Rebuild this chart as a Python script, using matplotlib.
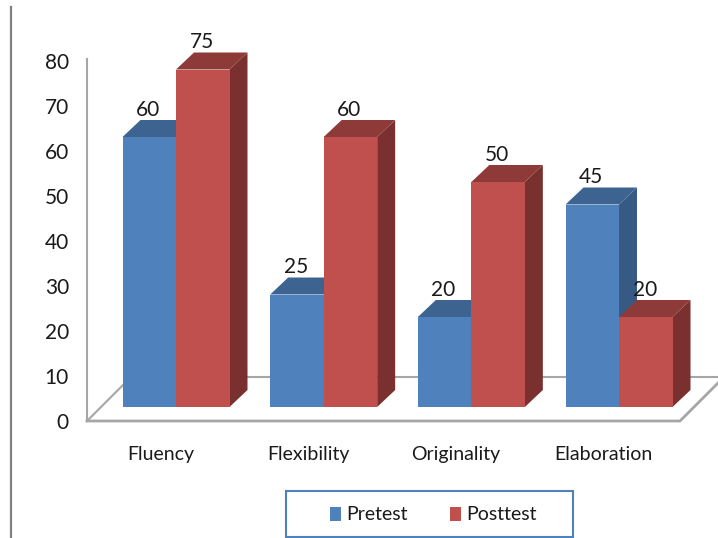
import matplotlib
matplotlib.use("Agg")
import matplotlib.pyplot as plt
from matplotlib.lines import Line2D
from matplotlib.patches import Patch, Polygon, Rectangle

categories = ["Fluency", "Flexibility", "Originality", "Elaboration"]
pretest = [60, 25, 20, 45]
posttest = [75, 60, 50, 20]
y_ticks = [0, 10, 20, 30, 40, 50, 60, 70, 80]

BLUE = ("#4F81BD", "#3D6491", "#375A85")
RED = ("#C0504D", "#8E3A38", "#7A302E")
GREY = "#A6A6A6"
TEXT = "#1A1A1A"

W, H = 718, 538
plt.rcParams["font.family"] = ["Lato", "DejaVu Sans"]
FONT = 15
SMALL_FONT = 14

fig = plt.figure(figsize=(W / 100, H / 100), dpi=100, facecolor="white")
# Axes span the front edge of the chart floor
L, R, T, B = 87, 680, 61, 421
ax = fig.add_axes([L / W, 1 - B / H, (R - L) / W, (B - T) / H])

unit_x = 147.67
group_left = 176
ax.set_xlim(-(group_left - L) / unit_x, (R - group_left) / unit_x)
ax.set_ylim(0, 80)
unit_y = (B - T) / 80

bar_w = 53.5 / unit_x
base = 14 / unit_y          # bars stand slightly behind the front edge
bar_dx, bar_dy = 18 / unit_x, 17 / unit_y
floor_dx, floor_dy = 44 / unit_x, 44 / unit_y
x0, x1 = ax.get_xlim()

# Floor outline, running out past the right side of the figure
ax.add_line(Line2D([x0, x0 + floor_dx, x1 + floor_dx], [0, floor_dy, floor_dy],
                   color=GREY, lw=1.5, clip_on=False, zorder=1))
ax.add_line(Line2D([x0, x1, x1 + floor_dx], [0, 0, floor_dy],
                   color=GREY, lw=2, clip_on=False, zorder=1))


def draw_bar(left, value, shades):
    front, top, side = shades
    right = left + bar_w
    y1 = base + value
    ax.add_patch(Polygon([(right, base), (right + bar_dx, base + bar_dy),
                          (right + bar_dx, y1 + bar_dy), (right, y1)],
                         fc=side, ec="none", clip_on=False, zorder=2))
    ax.add_patch(Polygon([(left, y1), (right, y1), (right + bar_dx, y1 + bar_dy),
                          (left + bar_dx, y1 + bar_dy)],
                         fc=top, ec="none", clip_on=False, zorder=2))
    ax.bar(left, value, bar_w, bottom=base, align="edge", color=front,
           clip_on=False, zorder=2)
    ax.annotate(str(value), (left + bar_w / 2, y1), xytext=(-0.7, 19.5),
                textcoords="offset points", ha="center", va="center",
                fontsize=FONT, color=TEXT, zorder=5, annotation_clip=False)


for i, (a, b) in enumerate(zip(pretest, posttest)):
    draw_bar(i - bar_w, a, BLUE)
    draw_bar(i, b, RED)

ax.patch.set_visible(False)
for name in ("top", "right", "bottom"):
    ax.spines[name].set_visible(False)
ax.spines["left"].set_color(GREY)
ax.spines["left"].set_linewidth(1.5)
ax.spines["left"].set_bounds(0, 80.4)

ax.set_yticks(y_ticks)
ax.tick_params(axis="y", length=0, pad=13, labelsize=FONT, labelcolor=TEXT)
ax.set_xticks([i - 0.105 for i in range(len(categories))])
ax.set_xticklabels(categories)
ax.tick_params(axis="x", length=0, pad=18, labelsize=SMALL_FONT, labelcolor=TEXT)

# Vertical rule along the left side of the figure
fig.add_artist(Line2D([11 / W, 11 / W], [1 - 7 / H, 0], color="#808080", lw=1.6))

# Legend frame is cut by the lower figure edge, so it is drawn on its own
fig.add_artist(Rectangle((286 / W, 1 - 537 / H), 287 / W, 46 / H, fc="white",
                         ec=BLUE[0], lw=1.5, transform=fig.transFigure))
handles = [Patch(fc=BLUE[0], label="Pretest"), Patch(fc=RED[0], label="Posttest")]
fig.legend(handles=handles, loc="center", bbox_to_anchor=(433.5 / W, 1 - 515 / H),
           ncol=2, frameon=False, fontsize=SMALL_FONT, handlelength=0.57, handleheight=0.7,
           handletextpad=0.25, columnspacing=2.2, borderpad=0, borderaxespad=0,
           labelcolor=TEXT)

fig.savefig("out.png", dpi=100, facecolor="white")
